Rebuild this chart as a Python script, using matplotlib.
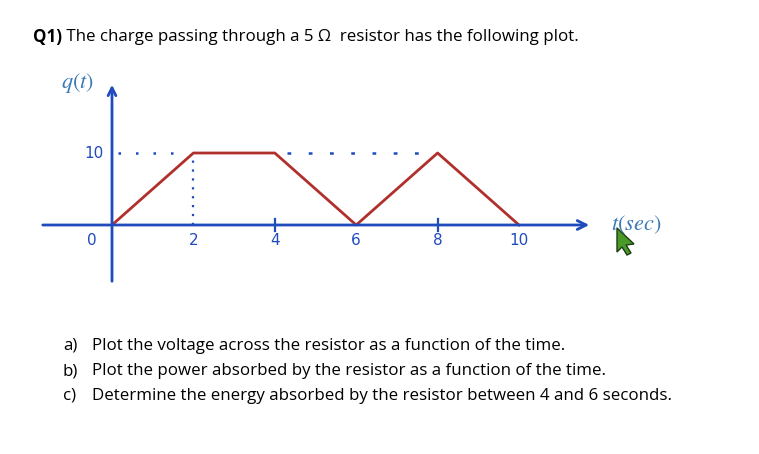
import matplotlib
matplotlib.use("Agg")
import matplotlib.pyplot as plt
from matplotlib.patches import Polygon

plt.rcParams["mathtext.fontset"] = "stix"

# Data
t_vals = [0, 2, 4, 6, 8, 10]
q_vals = [0, 10, 10, 0, 10, 0]
x_tick_labels = ["0", "2", "4", "6", "8", "10"]
y_tick_value = 10
title_bold = "Q1)"
title_rest = " The charge passing through a 5 Ω  resistor has the following plot."
questions = [
    ("a)", "Plot the voltage across the resistor as a function of the time."),
    ("b)", "Plot the power absorbed by the resistor as a function of the time."),
    ("c)", "Determine the energy absorbed by the resistor between 4 and 6 seconds."),
]

W, H = 759, 454
fig = plt.figure(figsize=(W / 100, H / 100), dpi=100)
ax = fig.add_axes([0, 0, 1, 1])
ax.axis("off")

# pixel mapping: t=0 -> px 112, 40.7 px/unit ; q=0 -> py 225, 7.2 px/unit
px0, sx = 112, 40.7
py0, sy = 225, 7.2
ax.set_xlim(-px0 / sx, (W - px0) / sx)
ax.set_ylim(-(H - py0) / sy, py0 / sy)

blue = "#1f4bbd"
red = "#b0302c"
label_blue = "#3a78b5"

# axes
ax.annotate("", xy=((592 - px0) / sx, 0), xytext=((40 - px0) / sx, 0),
            arrowprops=dict(arrowstyle="->", color=blue, lw=2, mutation_scale=16))
ax.annotate("", xy=(0, (py0 - 82) / sy), xytext=(0, (py0 - 284) / sy),
            arrowprops=dict(arrowstyle="->", color=blue, lw=2, mutation_scale=14))

# dotted guides
ax.plot([0.15, 1.8], [y_tick_value, y_tick_value], color=blue, lw=1.8,
        linestyle=(0, (1, 6)))
ax.plot([4.3, 7.8], [y_tick_value, y_tick_value], color=blue, lw=1.8,
        linestyle=(0, (1.5, 7)))
ax.plot([2, 2], [0, y_tick_value], color=blue, lw=1.6, linestyle=(0, (1, 3)))

# small ticks
for tk in [4, 8]:
    ax.plot([tk, tk], [-0.8, 0.8], color=blue, lw=1.6)

# data line
ax.plot(t_vals, q_vals, color=red, lw=2)

# tick labels
for tv, lab in zip(t_vals, x_tick_labels):
    xx = -0.5 if tv == 0 else tv
    ax.text(xx, -2.2, lab, color=blue, fontsize=11, ha="center", va="center",
            family="DejaVu Sans")
ax.text(-0.45, y_tick_value, "10", color=blue, fontsize=11, ha="center",
        va="center", family="DejaVu Sans")

# axis names
ax.text(-0.85, (py0 - 83) / sy, r"$q(t)$", color=label_blue, fontsize=16,
        ha="center", va="center")
ax.text((636 - px0) / sx, 0.1, r"$t(sec)$", color=label_blue, fontsize=16,
        ha="center", va="center")

# cursor (screen artifact)
cx, cy = 617, 228
cur = [(0, 0), (0, 24), (5, 19), (10, 27), (14, 25), (9, 17), (17, 16)]
pts = [((cx + dx - px0) / sx, (py0 - (cy + dy)) / sy) for dx, dy in cur]
ax.add_patch(Polygon(pts, closed=True, facecolor="#4a9a2a", edgecolor="#1d3d10", lw=1))

# title
fam = ["Open Sans", "DejaVu Sans"]
fs = 12.15
tb = fig.text(33 / W, 1 - 37 / H, title_bold, fontsize=fs, fontweight="bold",
              family=fam, va="center", ha="left")
fig.canvas.draw()
bb = tb.get_window_extent()
fig.text(bb.x1 / W, 1 - 37 / H, title_rest, fontsize=fs, family=fam,
         va="center", ha="left")

# questions
for i, (lab, txt) in enumerate(questions):
    yy = 1 - (346 + 25 * i) / H
    fig.text(63 / W, yy, lab, fontsize=fs, family=fam, va="center", ha="left")
    fig.text(92 / W, yy, txt, fontsize=fs, family=fam, va="center", ha="left")

fig.savefig("out.png", dpi=100, facecolor="white")
